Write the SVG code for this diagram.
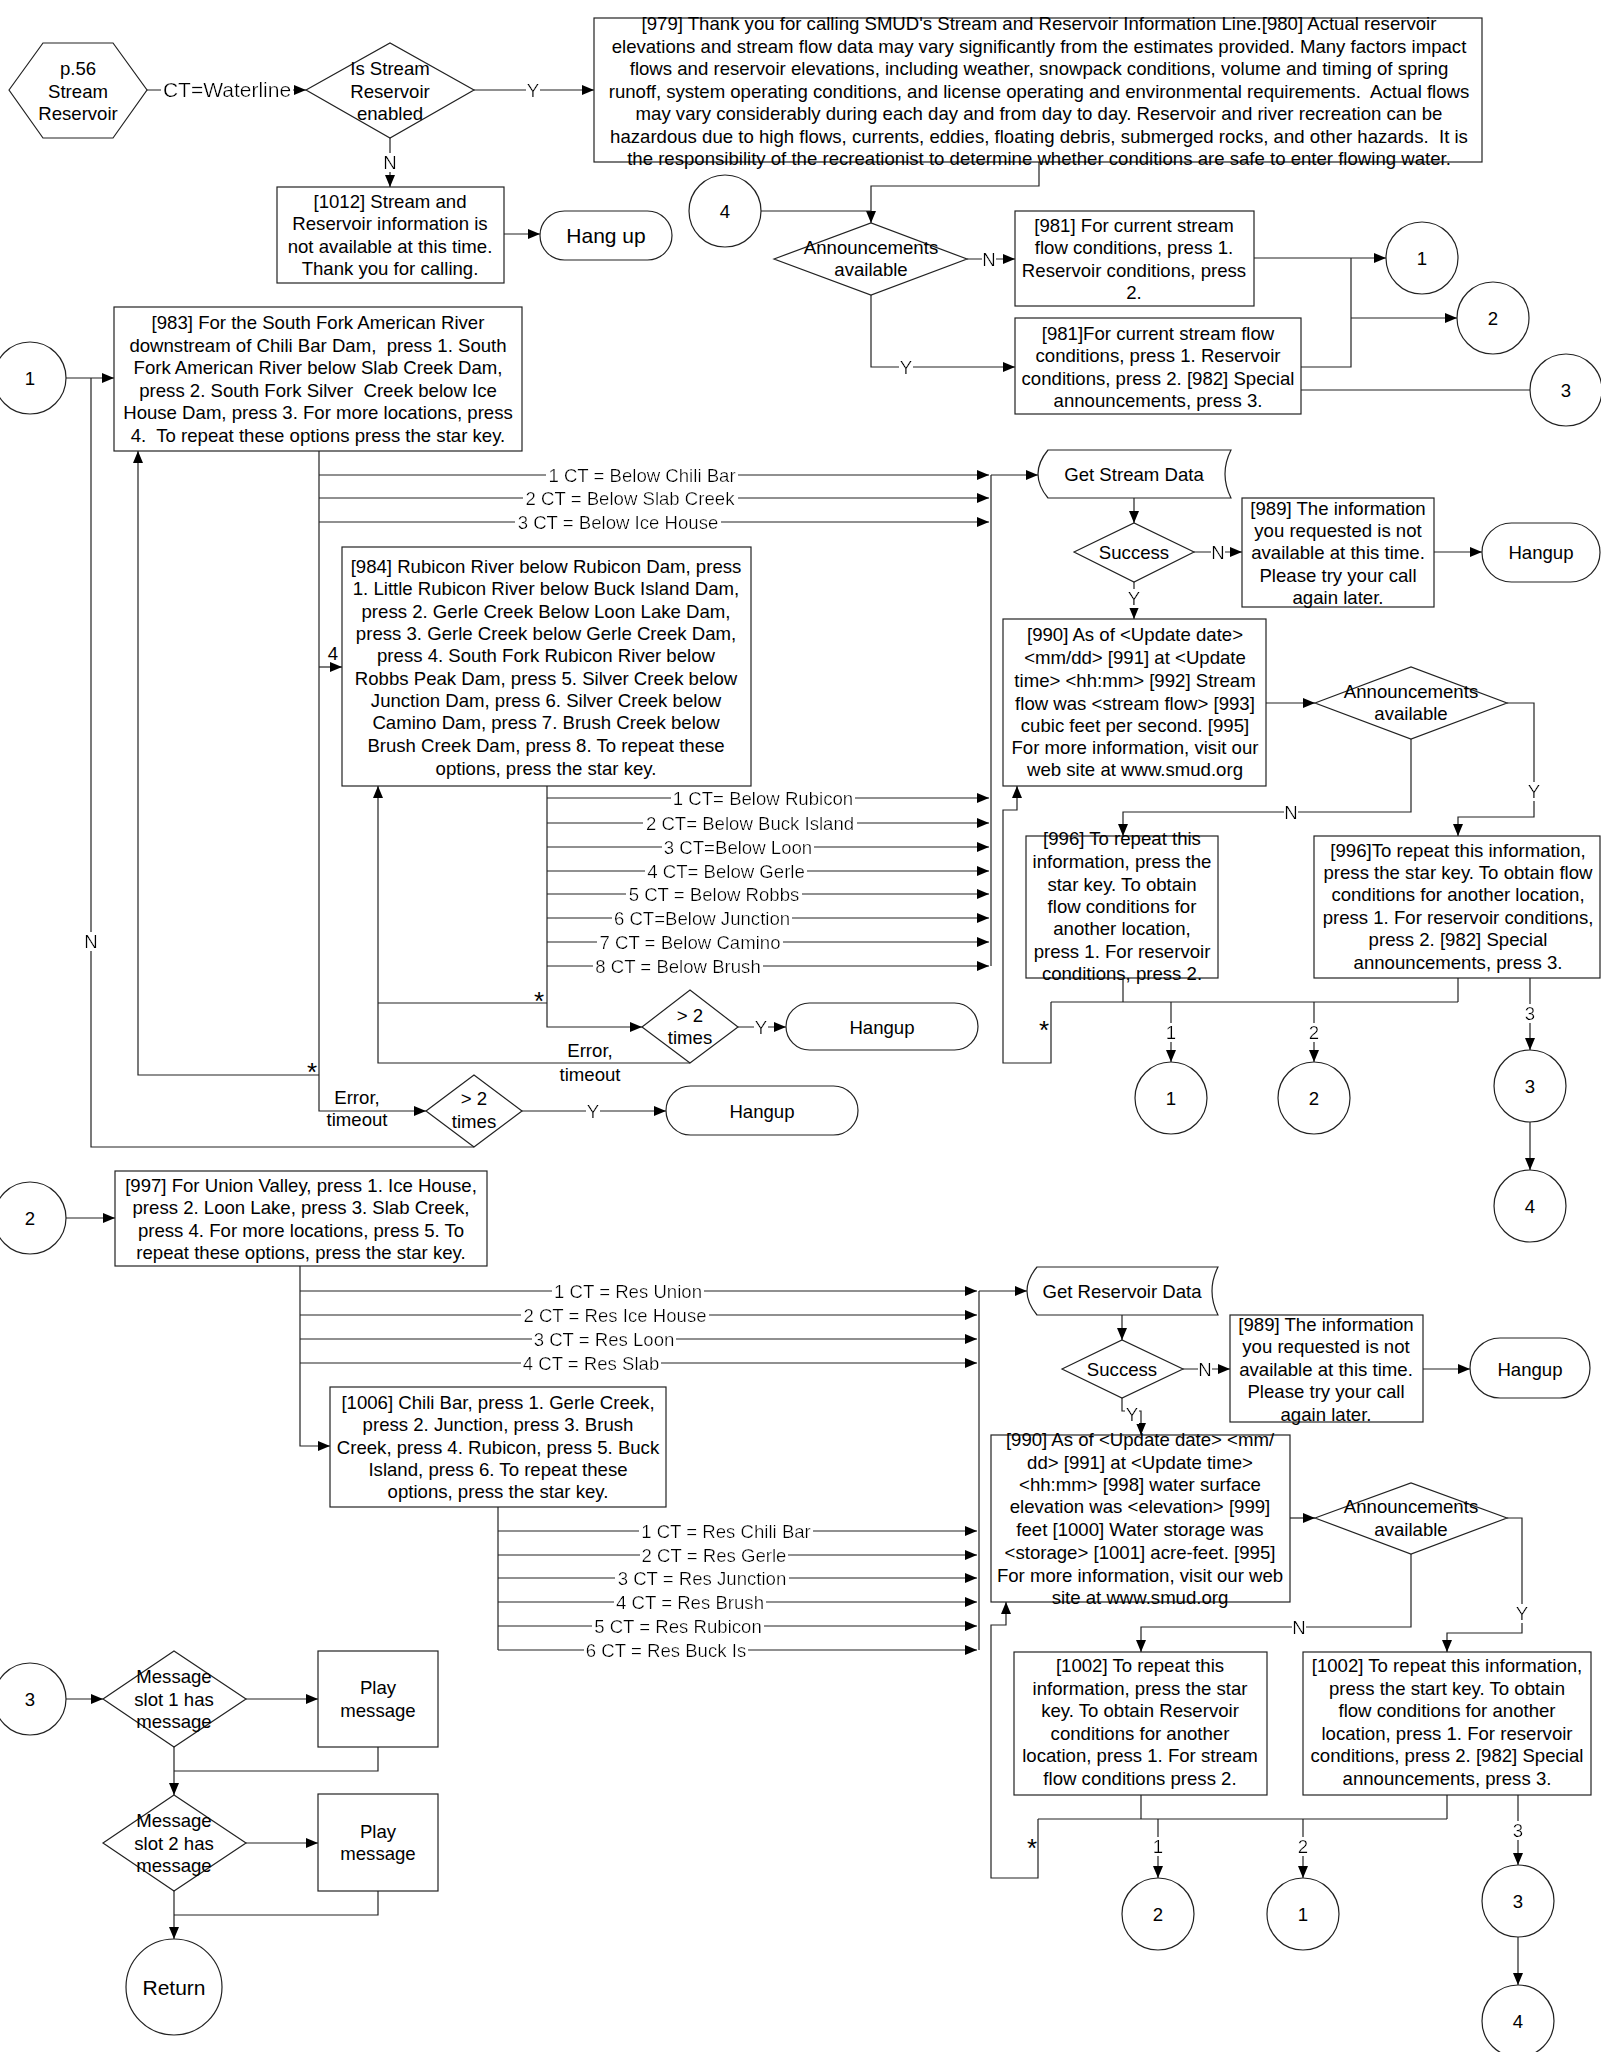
<svg xmlns="http://www.w3.org/2000/svg" width="1601" height="2052" viewBox="0 0 1601 2052">
<style>
text{font-family:"Liberation Sans",Arial,sans-serif;font-size:18.6px;fill:#000;text-anchor:middle}
.big{font-size:21px}
.star{font-size:26px}
.shape{fill:#fff;stroke:#222;stroke-width:1.2}
.con{fill:none;stroke:#222;stroke-width:1.2}
.arr{marker-end:url(#ah)}
.lbl{filter:url(#bg)}
</style>
<defs>
<marker id="ah" markerUnits="userSpaceOnUse" markerWidth="13" markerHeight="11" refX="12" refY="5" orient="auto">
<path d="M0,0 L12,5 L0,10 z" fill="#000"/>
</marker>
<filter id="bg" x="-0.01" y="0.05" width="1.02" height="0.9">
<feFlood flood-color="#fff"/>
<feComposite in="SourceGraphic" operator="over"/>
</filter>
</defs>
<rect width="1601" height="2052" fill="#fff"/>

<g id="connectors">
<!-- top -->
<path class="con arr" d="M147,90 H306"/>
<path class="con arr" d="M474,90 H594"/>
<path class="con arr" d="M390,138 V187"/>
<path class="con arr" d="M504,234 H540"/>
<path class="con arr" d="M1039,162 V186 H871 V223"/>
<path class="con" d="M761,211 H871"/>
<path class="con arr" d="M967,259 H1015"/>
<path class="con arr" d="M871,295 V367 H1015"/>
<path class="con arr" d="M1254,258 H1386"/>
<path class="con" d="M1351,258 V367 H1301"/>
<path class="con arr" d="M1351,318 H1457"/>
<path class="con" d="M1301,390 H1530"/>
<!-- stream menu -->
<path class="con arr" d="M66,378 H114"/>
<path class="con" d="M474,1147 H91 V378"/>
<path class="con arr" d="M319,451 V1111 H426"/>
<path class="con arr" d="M319,475 H989"/>
<path class="con arr" d="M319,498 H989"/>
<path class="con arr" d="M319,522 H989"/>
<path class="con arr" d="M319,667 H342"/>
<path class="con arr" d="M319,1075 H138 V451"/>
<path class="con arr" d="M547,786 V1027 H642"/>
<path class="con arr" d="M547,798 H989"/>
<path class="con arr" d="M547,823 H989"/>
<path class="con arr" d="M547,847 H989"/>
<path class="con arr" d="M547,871 H989"/>
<path class="con arr" d="M547,894 H989"/>
<path class="con arr" d="M547,918 H989"/>
<path class="con arr" d="M547,942 H989"/>
<path class="con arr" d="M547,966 H989"/>
<path class="con" d="M547,1003 H378"/>
<path class="con arr" d="M690,1063 H378 V786"/>
<path class="con arr" d="M738,1027 H786"/>
<path class="con arr" d="M522,1111 H666"/>
<path class="con" d="M991,475 V966"/>
<path class="con arr" d="M991,475 H1038"/>
<!-- stream data -->
<path class="con arr" d="M1134,498 V523"/>
<path class="con arr" d="M1194,552 H1242"/>
<path class="con arr" d="M1434,552 H1482"/>
<path class="con arr" d="M1134,582 V619"/>
<path class="con arr" d="M1266,703 H1315"/>
<path class="con arr" d="M1411,739 V812 H1123 V836"/>
<path class="con arr" d="M1507,703 H1534 V817 H1458 V836"/>
<path class="con" d="M1123,978 V1002"/>
<path class="con" d="M1458,978 V1002"/>
<path class="con" d="M1051,1002 H1458"/>
<path class="con arr" d="M1051,1002 V1063 H1003 V810 H1017 V786"/>
<path class="con arr" d="M1171,1002 V1062"/>
<path class="con arr" d="M1314,1002 V1062"/>
<path class="con arr" d="M1530,978 V1050"/>
<path class="con arr" d="M1530,1122 V1170"/>
<!-- reservoir menu -->
<path class="con arr" d="M66,1218 H115"/>
<path class="con arr" d="M300,1266 V1446 H330"/>
<path class="con arr" d="M300,1291 H977"/>
<path class="con arr" d="M300,1315 H977"/>
<path class="con arr" d="M300,1339 H977"/>
<path class="con arr" d="M300,1363 H977"/>
<path class="con" d="M498,1507 V1650"/>
<path class="con arr" d="M498,1531 H977"/>
<path class="con arr" d="M498,1555 H977"/>
<path class="con arr" d="M498,1578 H977"/>
<path class="con arr" d="M498,1602 H977"/>
<path class="con arr" d="M498,1626 H977"/>
<path class="con arr" d="M498,1650 H977"/>
<path class="con" d="M979,1291 V1650"/>
<path class="con arr" d="M979,1291 H1027"/>
<!-- reservoir data -->
<path class="con arr" d="M1122,1315 V1340"/>
<path class="con arr" d="M1183,1369 H1230"/>
<path class="con arr" d="M1423,1369 H1470"/>
<path class="con arr" d="M1122,1398 V1411 H1141 V1435"/>
<path class="con arr" d="M1290,1518 H1315"/>
<path class="con arr" d="M1411,1554 V1627 H1141 V1652"/>
<path class="con arr" d="M1507,1518 H1522 V1633 H1447 V1652"/>
<path class="con" d="M1141,1795 V1819"/>
<path class="con" d="M1447,1795 V1819"/>
<path class="con" d="M1038,1819 H1447"/>
<path class="con arr" d="M1038,1819 V1878 H991 V1625 H1006 V1602"/>
<path class="con arr" d="M1158,1819 V1878"/>
<path class="con arr" d="M1303,1819 V1878"/>
<path class="con arr" d="M1518,1795 V1865"/>
<path class="con arr" d="M1518,1937 V1985"/>
<!-- messages -->
<path class="con arr" d="M66,1699 H103"/>
<path class="con arr" d="M246,1699 H318"/>
<path class="con arr" d="M174,1747 V1795"/>
<path class="con" d="M378,1747 V1771 H174"/>
<path class="con arr" d="M246,1843 H318"/>
<path class="con arr" d="M174,1891 V1939"/>
<path class="con" d="M378,1891 V1915 H174"/>

<!-- connector labels -->
<text class="lbl big" x="227" y="97">CT=Waterline</text>
<text class="lbl" x="533" y="97">Y</text>
<text class="lbl" x="390" y="169">N</text>
<text class="lbl" x="989" y="266">N</text>
<text class="lbl" x="906" y="374">Y</text>
<text class="lbl" x="91" y="948">N</text>
<text class="lbl" x="642" y="482">1 CT = Below Chili Bar</text>
<text class="lbl" x="630" y="505">2 CT = Below Slab Creek</text>
<text class="lbl" x="618" y="529">3 CT = Below Ice House</text>
<text x="333" y="660">4</text>
<text class="lbl" x="763" y="805">1 CT= Below Rubicon</text>
<text class="lbl" x="750" y="830">2 CT= Below Buck Island</text>
<text class="lbl" x="738" y="854">3 CT=Below Loon</text>
<text class="lbl" x="726" y="878">4 CT= Below Gerle</text>
<text class="lbl" x="714" y="901">5 CT = Below Robbs</text>
<text class="lbl" x="702" y="925">6 CT=Below Junction</text>
<text class="lbl" x="690" y="949">7 CT = Below Camino</text>
<text class="lbl" x="678" y="973">8 CT = Below Brush</text>
<text class="star" x="539" y="1010">*</text>
<text class="star" x="312" y="1081">*</text>
<text x="590" y="1057">Error,</text>
<text x="590" y="1081">timeout</text>
<text x="357" y="1104">Error,</text>
<text x="357" y="1126">timeout</text>
<text class="lbl" x="761" y="1034">Y</text>
<text class="lbl" x="593" y="1118">Y</text>
<text class="lbl" x="1218" y="559">N</text>
<text class="lbl" x="1134" y="605">Y</text>
<text class="lbl" x="1291" y="819">N</text>
<text class="lbl" x="1534" y="798">Y</text>
<text class="star" x="1044" y="1039">*</text>
<text class="lbl" x="1171" y="1039">1</text>
<text class="lbl" x="1314" y="1039">2</text>
<text class="lbl" x="1530" y="1020">3</text>
<text class="lbl" x="628" y="1298">1 CT = Res Union</text>
<text class="lbl" x="615" y="1322">2 CT = Res Ice House</text>
<text class="lbl" x="604" y="1346">3 CT = Res Loon</text>
<text class="lbl" x="591" y="1370">4 CT = Res Slab</text>
<text class="lbl" x="726" y="1538">1 CT = Res Chili Bar</text>
<text class="lbl" x="714" y="1562">2 CT = Res Gerle</text>
<text class="lbl" x="702" y="1585">3 CT = Res Junction</text>
<text class="lbl" x="690" y="1609">4 CT = Res Brush</text>
<text class="lbl" x="678" y="1633">5 CT = Res Rubicon</text>
<text class="lbl" x="666" y="1657">6 CT = Res Buck Is</text>
<text class="lbl" x="1205" y="1376">N</text>
<text class="lbl" x="1132" y="1421">Y</text>
<text class="lbl" x="1299" y="1634">N</text>
<text class="lbl" x="1522" y="1620">Y</text>
<text class="star" x="1032" y="1857">*</text>
<text class="lbl" x="1158" y="1853">1</text>
<text class="lbl" x="1303" y="1853">2</text>
<text class="lbl" x="1518" y="1837">3</text>
</g>

<g id="start">
<polygon class="shape" points="9,90 43,43 113,43 147,90 113,138 43,138"/>
<text x="78" y="74.5">p.56</text><text x="78" y="97.5">Stream</text><text x="78" y="119.5">Reservoir</text>
</g>
<g id="enabled">
<polygon class="shape" points="306,90 390,43 474,90 390,138"/>
<text x="390" y="74.5">Is Stream</text><text x="390" y="97.5">Reservoir</text><text x="390" y="119.5">enabled</text>
</g>
<g id="n979">
<rect class="shape" x="594" y="18" width="888" height="144"/>
<text x="1039" y="29.5">[979] Thank you for calling SMUD's Stream and Reservoir Information Line.[980] Actual reservoir</text>
<text x="1039" y="52.5">elevations and stream flow data may vary significantly from the estimates provided. Many factors impact</text>
<text x="1039" y="74.5">flows and reservoir elevations, including weather, snowpack conditions, volume and timing of spring</text>
<text x="1039" y="97.5" xml:space="preserve">runoff, system operating conditions, and license operating and environmental requirements.  Actual flows</text>
<text x="1039" y="119.5">may vary considerably during each day and from day to day. Reservoir and river recreation can be</text>
<text x="1039" y="142.5" xml:space="preserve">hazardous due to high flows, currents, eddies, floating debris, submerged rocks, and other hazards.  It is</text>
<text x="1039" y="164.5">the responsibility of the recreationist to determine whether conditions are safe to enter flowing water.</text>
</g>
<g id="n1012">
<rect class="shape" x="277" y="187" width="227" height="96"/>
<text x="390" y="207.5">[1012] Stream and</text><text x="390" y="229.5">Reservoir information is</text><text x="390" y="252.5">not available at this time.</text><text x="390" y="274.5">Thank you for calling.</text>
</g>
<g id="hangup1">
<rect class="shape" x="540" y="211" width="132" height="49" rx="24.5"/>
<text class="big" x="606" y="242.5">Hang up</text>
</g>
<g id="c4top"><circle class="shape" cx="725" cy="211" r="36"/><text x="725" y="217.5">4</text></g>
<g id="ann1">
<polygon class="shape" points="774,259 871,223 967,259 871,295"/>
<text x="871" y="253.5">Announcements</text><text x="871" y="275.5">available</text>
</g>
<g id="n981a">
<rect class="shape" x="1015" y="211" width="239" height="95"/>
<text x="1134" y="231.5">[981] For current stream</text><text x="1134" y="253.5">flow conditions, press 1.</text><text x="1134" y="276.5">Reservoir conditions, press</text><text x="1134" y="298.5">2.</text>
</g>
<g id="n981b">
<rect class="shape" x="1015" y="318" width="286" height="96"/>
<text x="1158" y="339.5">[981]For current stream flow</text><text x="1158" y="361.5">conditions, press 1. Reservoir</text><text x="1158" y="384.5">conditions, press 2. [982] Special</text><text x="1158" y="406.5">announcements, press 3.</text>
</g>
<g id="c1tr"><circle class="shape" cx="1422" cy="258" r="36"/><text x="1422" y="264.5">1</text></g>
<g id="c2tr"><circle class="shape" cx="1493" cy="318" r="36"/><text x="1493" y="324.5">2</text></g>
<g id="c3tr"><circle class="shape" cx="1566" cy="390" r="36"/><text x="1566" y="396.5">3</text></g>

<g id="c1left"><circle class="shape" cx="30" cy="378" r="36"/><text x="30" y="384.5">1</text></g>
<g id="n983">
<rect class="shape" x="114" y="307" width="408" height="144"/>
<text x="318" y="328.5">[983] For the South Fork American River</text>
<text x="318" y="351.5" xml:space="preserve">downstream of Chili Bar Dam,  press 1. South</text>
<text x="318" y="373.5">Fork American River below Slab Creek Dam,</text>
<text x="318" y="396.5" xml:space="preserve">press 2. South Fork Silver  Creek below Ice</text>
<text x="318" y="418.5">House Dam, press 3. For more locations, press</text>
<text x="318" y="441.5" xml:space="preserve">4.  To repeat these options press the star key.</text>
</g>
<g id="n984">
<rect class="shape" x="342" y="547" width="409" height="239"/>
<text x="546" y="572.5">[984] Rubicon River below Rubicon Dam, press</text>
<text x="546" y="594.5">1. Little Rubicon River below Buck Island Dam,</text>
<text x="546" y="617.5">press 2. Gerle Creek Below Loon Lake Dam,</text>
<text x="546" y="639.5">press 3. Gerle Creek below Gerle Creek Dam,</text>
<text x="546" y="661.5">press 4. South Fork Rubicon River below</text>
<text x="546" y="684.5">Robbs Peak Dam, press 5. Silver Creek below</text>
<text x="546" y="706.5">Junction Dam, press 6. Silver Creek below</text>
<text x="546" y="728.5">Camino Dam, press 7. Brush Creek below</text>
<text x="546" y="751.5">Brush Creek Dam, press 8. To repeat these</text>
<text x="546" y="774.5">options, press the star key.</text>
</g>
<g id="times1">
<polygon class="shape" points="642,1027 690,990 738,1027 690,1063"/>
<text x="690" y="1021.5">&gt; 2</text><text x="690" y="1043.5">times</text>
</g>
<g id="hangup2">
<rect class="shape" x="786" y="1003" width="192" height="47" rx="23.5"/>
<text x="882" y="1033.5">Hangup</text>
</g>
<g id="times2">
<polygon class="shape" points="426,1111 474,1075 522,1111 474,1147"/>
<text x="474" y="1104.5">&gt; 2</text><text x="474" y="1127.5">times</text>
</g>
<g id="hangup3">
<rect class="shape" x="666" y="1086" width="192" height="49" rx="24.5"/>
<text x="762" y="1117.5">Hangup</text>
</g>

<g id="getstream">
<path class="shape" d="M1048,450 H1231 Q1219,474 1231,498 H1048 Q1028,474 1048,450 Z"/>
<text x="1134" y="480.5">Get Stream Data</text>
</g>
<g id="success1">
<polygon class="shape" points="1074,552 1134,523 1194,552 1134,582"/>
<text x="1134" y="558.5">Success</text>
</g>
<g id="n989a">
<rect class="shape" x="1242" y="498" width="192" height="109"/>
<text x="1338" y="514.5">[989] The information</text><text x="1338" y="536.5">you requested is not</text><text x="1338" y="558.5">available at this time.</text><text x="1338" y="581.5">Please try your call</text><text x="1338" y="603.5">again later.</text>
</g>
<g id="hangup4">
<rect class="shape" x="1482" y="523" width="118" height="59" rx="29.5"/>
<text x="1541" y="558.5">Hangup</text>
</g>
<g id="n990a">
<rect class="shape" x="1003" y="619" width="263" height="167"/>
<text x="1135" y="640.5">[990] As of &lt;Update date&gt;</text>
<text x="1135" y="663.5">&lt;mm/dd&gt; [991] at &lt;Update</text>
<text x="1135" y="686.5">time&gt; &lt;hh:mm&gt; [992] Stream</text>
<text x="1135" y="709.5">flow was &lt;stream flow&gt; [993]</text>
<text x="1135" y="731.5">cubic feet per second. [995]</text>
<text x="1135" y="753.5">For more information, visit our</text>
<text x="1135" y="775.5">web site at www.smud.org</text>
</g>
<g id="ann2">
<polygon class="shape" points="1315,703 1411,667 1507,703 1411,739"/>
<text x="1411" y="697.5">Announcements</text><text x="1411" y="719.5">available</text>
</g>
<g id="n996a">
<rect class="shape" x="1026" y="836" width="192" height="142"/>
<text x="1122" y="844.5">[996] To repeat this</text><text x="1122" y="867.5">information, press the</text><text x="1122" y="890.5">star key. To obtain</text><text x="1122" y="912.5">flow conditions for</text><text x="1122" y="934.5">another location,</text><text x="1122" y="957.5">press 1. For reservoir</text><text x="1122" y="979.5">conditions, press 2.</text>
</g>
<g id="n996b">
<rect class="shape" x="1314" y="836" width="286" height="142"/>
<text x="1458" y="856.5">[996]To repeat this information,</text><text x="1458" y="878.5">press the star key. To obtain flow</text><text x="1458" y="900.5">conditions for another location,</text><text x="1458" y="923.5">press 1. For reservoir conditions,</text><text x="1458" y="945.5">press 2. [982] Special</text><text x="1458" y="968.5">announcements, press 3.</text>
</g>
<g id="c1s"><circle class="shape" cx="1171" cy="1098" r="36"/><text x="1171" y="1104.5">1</text></g>
<g id="c2s"><circle class="shape" cx="1314" cy="1098" r="36"/><text x="1314" y="1104.5">2</text></g>
<g id="c3s"><circle class="shape" cx="1530" cy="1086" r="36"/><text x="1530" y="1092.5">3</text></g>
<g id="c4s"><circle class="shape" cx="1530" cy="1206" r="36"/><text x="1530" y="1212.5">4</text></g>

<g id="c2left"><circle class="shape" cx="30" cy="1218" r="36"/><text x="30" y="1224.5">2</text></g>
<g id="n997">
<rect class="shape" x="115" y="1171" width="372" height="95"/>
<text x="301" y="1191.5">[997] For Union Valley, press 1. Ice House,</text><text x="301" y="1213.5">press 2. Loon Lake, press 3. Slab Creek,</text><text x="301" y="1236.5">press 4. For more locations, press 5. To</text><text x="301" y="1258.5">repeat these options, press the star key.</text>
</g>
<g id="n1006">
<rect class="shape" x="330" y="1387" width="336" height="120"/>
<text x="498" y="1408.5">[1006] Chili Bar, press 1. Gerle Creek,</text><text x="498" y="1430.5">press 2. Junction, press 3. Brush</text><text x="498" y="1453.5">Creek, press 4. Rubicon, press 5. Buck</text><text x="498" y="1475.5">Island, press 6. To repeat these</text><text x="498" y="1497.5">options, press the star key.</text>
</g>
<g id="getres">
<path class="shape" d="M1037,1267 H1218 Q1206,1291 1218,1315 H1037 Q1017,1291 1037,1267 Z"/>
<text x="1122" y="1297.5">Get Reservoir Data</text>
</g>
<g id="success2">
<polygon class="shape" points="1062,1369 1122,1340 1183,1369 1122,1398"/>
<text x="1122" y="1375.5">Success</text>
</g>
<g id="n989b">
<rect class="shape" x="1230" y="1315" width="193" height="107"/>
<text x="1326" y="1330.5">[989] The information</text><text x="1326" y="1352.5">you requested is not</text><text x="1326" y="1375.5">available at this time.</text><text x="1326" y="1397.5">Please try your call</text><text x="1326" y="1420.5">again later.</text>
</g>
<g id="hangup5">
<rect class="shape" x="1470" y="1338" width="120" height="60" rx="30"/>
<text x="1530" y="1375.5">Hangup</text>
</g>
<g id="n990b">
<rect class="shape" x="991" y="1435" width="299" height="167"/>
<text x="1140" y="1445.5">[990] As of &lt;Update date&gt; &lt;mm/</text>
<text x="1140" y="1468.5">dd&gt; [991] at &lt;Update time&gt;</text>
<text x="1140" y="1490.5">&lt;hh:mm&gt; [998] water surface</text>
<text x="1140" y="1512.5">elevation was &lt;elevation&gt; [999]</text>
<text x="1140" y="1535.5">feet [1000] Water storage was</text>
<text x="1140" y="1558.5">&lt;storage&gt; [1001] acre-feet. [995]</text>
<text x="1140" y="1581.5">For more information, visit our web</text>
<text x="1140" y="1603.5">site at www.smud.org</text>
</g>
<g id="ann3">
<polygon class="shape" points="1315,1518 1411,1483 1507,1518 1411,1554"/>
<text x="1411" y="1512.5">Announcements</text><text x="1411" y="1535.5">available</text>
</g>
<g id="n1002a">
<rect class="shape" x="1014" y="1652" width="253" height="143"/>
<text x="1140" y="1671.5">[1002] To repeat this</text><text x="1140" y="1694.5">information, press the star</text><text x="1140" y="1716.5">key. To obtain Reservoir</text><text x="1140" y="1739.5">conditions for another</text><text x="1140" y="1761.5">location, press 1. For stream</text><text x="1140" y="1784.5">flow conditions press 2.</text>
</g>
<g id="n1002b">
<rect class="shape" x="1303" y="1652" width="288" height="143"/>
<text x="1447" y="1671.5">[1002] To repeat this information,</text><text x="1447" y="1694.5">press the start key. To obtain</text><text x="1447" y="1716.5">flow conditions for another</text><text x="1447" y="1739.5">location, press 1. For reservoir</text><text x="1447" y="1761.5">conditions, press 2. [982] Special</text><text x="1447" y="1784.5">announcements, press 3.</text>
</g>
<g id="c2r"><circle class="shape" cx="1158" cy="1914" r="36"/><text x="1158" y="1920.5">2</text></g>
<g id="c1r"><circle class="shape" cx="1303" cy="1914" r="36"/><text x="1303" y="1920.5">1</text></g>
<g id="c3r"><circle class="shape" cx="1518" cy="1901" r="36"/><text x="1518" y="1907.5">3</text></g>
<g id="c4r"><circle class="shape" cx="1518" cy="2021" r="36"/><text x="1518" y="2027.5">4</text></g>

<g id="c3left"><circle class="shape" cx="30" cy="1699" r="36"/><text x="30" y="1705.5">3</text></g>
<g id="slot1">
<polygon class="shape" points="103,1699 174,1651 246,1699 174,1747"/>
<text x="174" y="1682.5">Message</text><text x="174" y="1705.5">slot 1 has</text><text x="174" y="1727.5">message</text>
</g>
<g id="play1">
<rect class="shape" x="318" y="1651" width="120" height="96"/>
<text x="378" y="1693.5">Play</text><text x="378" y="1716.5">message</text>
</g>
<g id="slot2">
<polygon class="shape" points="103,1843 174,1795 246,1843 174,1891"/>
<text x="174" y="1826.5">Message</text><text x="174" y="1849.5">slot 2 has</text><text x="174" y="1871.5">message</text>
</g>
<g id="play2">
<rect class="shape" x="318" y="1794" width="120" height="97"/>
<text x="378" y="1837.5">Play</text><text x="378" y="1859.5">message</text>
</g>
<g id="return">
<circle class="shape" cx="174" cy="1987" r="48"/>
<text class="big" x="174" y="1994.5">Return</text>
</g>
</svg>
